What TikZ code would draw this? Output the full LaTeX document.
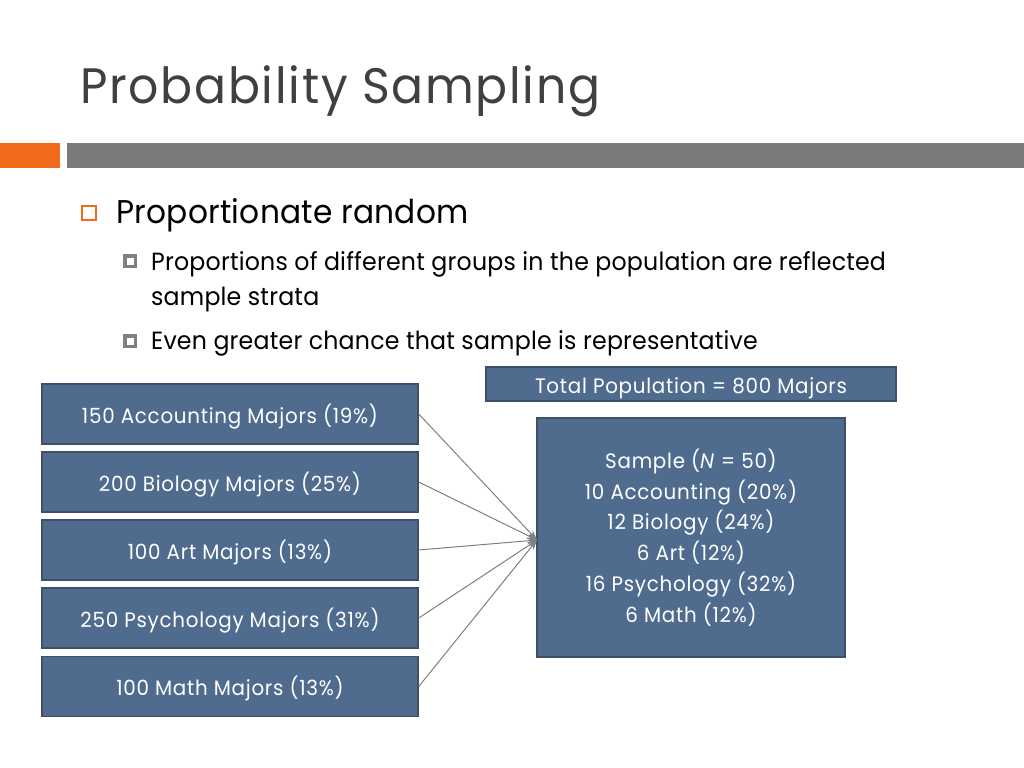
\documentclass[tikz,border=0pt]{standalone}
\usepackage{fontspec}
\setmainfont{Poppins}[FakeStretch=0.95, LetterSpace=3.5]
\newfontfamily\bodyfont{Poppins}[FakeStretch=0.95, LetterSpace=0.8]
\usetikzlibrary{arrows.meta}
\definecolor{boxblue}{HTML}{4F6B8E}
\definecolor{boxedge}{HTML}{3E4F66}
\definecolor{arrowgray}{HTML}{7F7F7F}
\definecolor{barorange}{HTML}{F26B1D}
\definecolor{bargray}{HTML}{7B7B7B}
\definecolor{titlegray}{HTML}{404040}
\begin{document}
\begin{tikzpicture}[x=1bp,y=-1bp,
  box/.style={draw=boxedge, line width=1.5bp, fill=boxblue, text=white, inner sep=0pt,
    font=\fontsize{21}{26}\selectfont},
  onebox/.style={box, text height=22bp, text depth=4bp},
  conn/.style={draw=arrowgray, line width=1bp, -{Stealth[length=10bp,width=7bp]}},
  bulletone/.style={draw=barorange, line width=1.6bp},
  bodytext/.style={anchor=base west, inner sep=0pt, font=\bodyfont\fontsize{25}{30}\selectfont}]
\useasboundingbox (0,0) rectangle (1024,768);
% bars
\fill[barorange] (0,143) rectangle (60,168);
\fill[bargray] (67,143) rectangle (1024,168);
% title
\node[anchor=base west, inner sep=0pt, text=titlegray, font=\fontsize{50}{60}\selectfont] (title) at (80,103) {Probability Sampling};
% bullets
\draw[bulletone] (82,206) rectangle (96,220);
\node[bodytext, font=\bodyfont\fontsize{33}{40}\selectfont] (b1) at (116,223) {Proportionate random};
\fill[arrowgray] (123,254) rectangle (137,268);
\fill[white] (126.5,257.5) rectangle (133.5,264.5);
\node[bodytext] (b2) at (151,270) {Proportions of different groups in the population are reflected};
\node[bodytext] (b2b) at (151,305) {sample strata};
\fill[arrowgray] (123,334) rectangle (137,348);
\fill[white] (126.5,337.5) rectangle (133.5,344.5);
\node[bodytext] (b3) at (151,349) {Even greater chance that sample is representative};
% boxes
\node[onebox, minimum width=376bp, minimum height=60bp] (acc) at (230,414) {150 Accounting Majors (19\%)};
\node[onebox, minimum width=376bp, minimum height=60bp] (bio) at (230,482) {200 Biology Majors (25\%)};
\node[onebox, minimum width=376bp, minimum height=60bp] (art) at (230,550) {100 Art Majors (13\%)};
\node[onebox, minimum width=376bp, minimum height=60bp] (psy) at (230,618) {250 Psychology Majors (31\%)};
\node[onebox, minimum width=376bp, minimum height=60bp] (mat) at (230,686.5) {100 Math Majors (13\%)};
\node[onebox, minimum width=410bp, minimum height=34bp] (total) at (691,384) {Total Population = 800 Majors};
\node[box, minimum width=308bp, minimum height=239bp, align=center, font=\fontsize{21}{30.8}\selectfont] (sample) at (691,537.5)
  {Sample (\textit{N} = 50)\\10 Accounting (20\%)\\12 Biology (24\%)\\6 Art (12\%)\\16 Psychology (32\%)\\6 Math (12\%)};
% connectors
\coordinate (tip) at (537,540);
\draw[conn] (acc.east) -- (tip);
\draw[conn] (bio.east) -- (tip);
\draw[conn] (art.east) -- (tip);
\draw[conn] (psy.east) -- (tip);
\draw[conn] (mat.east) -- (tip);
\end{tikzpicture}
\end{document}
